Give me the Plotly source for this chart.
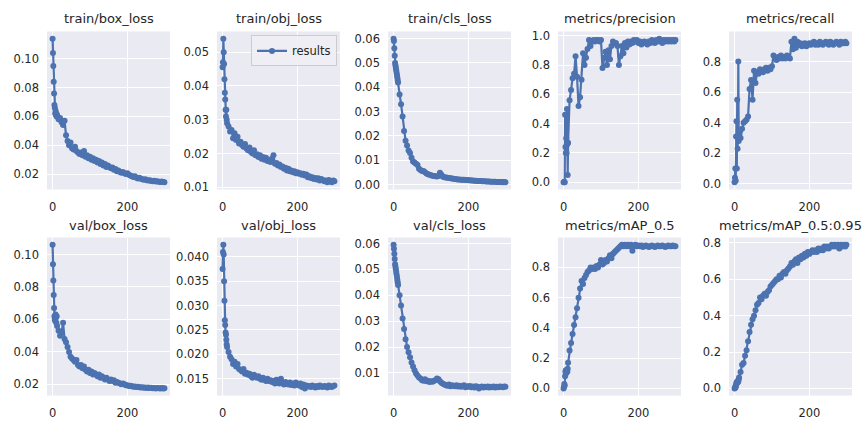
import plotly.graph_objects as go

# ---------------- data ----------------
epochs = list(range(12)) + list(range(12, 300, 4)) + [299]

train_box_loss = [0.114, 0.104, 0.095, 0.084, 0.076, 0.068, 0.066, 0.062, 0.064, 0.061, 0.062, 0.060,
    0.061, 0.058, 0.059, 0.056, 0.054, 0.057, 0.047, 0.043,
    0.040, 0.042, 0.038, 0.037, 0.039, 0.036, 0.035, 0.034,
    0.035, 0.033, 0.036, 0.032, 0.033, 0.031, 0.032, 0.030,
    0.031, 0.029, 0.030, 0.028, 0.029, 0.027, 0.028, 0.026,
    0.027, 0.025, 0.026, 0.025, 0.024, 0.0245, 0.023, 0.0235,
    0.022, 0.0225, 0.0215, 0.021, 0.0215, 0.0205, 0.020, 0.0205,
    0.0195, 0.019, 0.0185, 0.018, 0.0185, 0.0175, 0.017, 0.0175,
    0.0168, 0.0165, 0.016, 0.0165, 0.0158, 0.0155, 0.0158, 0.0152,
    0.015, 0.0153, 0.0148, 0.015, 0.0147, 0.0145, 0.0148, 0.0145,
    0.0143]

train_obj_loss = [0.0455, 0.047, 0.054, 0.050, 0.0465, 0.042, 0.038, 0.036, 0.033, 0.031, 0.033, 0.030,
    0.029, 0.028, 0.0265, 0.027, 0.0245, 0.026, 0.024, 0.025,
    0.023, 0.0235, 0.0225, 0.022, 0.0228, 0.0215, 0.021, 0.0218,
    0.0205, 0.020, 0.021, 0.0195, 0.0198, 0.019, 0.0195, 0.0185,
    0.019, 0.0182, 0.0188, 0.0178, 0.018, 0.0175, 0.0185, 0.0195,
    0.017, 0.0172, 0.0165, 0.0168, 0.016, 0.0162, 0.0155, 0.0158,
    0.015, 0.0155, 0.0148, 0.015, 0.0145, 0.0148, 0.0142, 0.0145,
    0.014, 0.0142, 0.0137, 0.014, 0.0135, 0.0138, 0.013, 0.0133,
    0.0128, 0.013, 0.0125, 0.0128, 0.0123, 0.0127, 0.012, 0.0125,
    0.0122, 0.0118, 0.012, 0.0115, 0.0122, 0.0118, 0.0115, 0.012,
    0.0118]

train_cls_loss = [0.060, 0.059, 0.056, 0.053, 0.050, 0.049, 0.048, 0.047, 0.046, 0.045, 0.044, 0.043,
    0.042, 0.037, 0.033, 0.028, 0.022, 0.018, 0.016, 0.014,
    0.013, 0.011, 0.0095, 0.009, 0.0085, 0.008, 0.0065, 0.006,
    0.0055, 0.0055, 0.005, 0.0045, 0.0042, 0.004, 0.0038, 0.0036,
    0.0035, 0.0034, 0.0033, 0.0035, 0.0048, 0.004, 0.0032, 0.003,
    0.0029, 0.0028, 0.0027, 0.0026, 0.0025, 0.0024, 0.0023, 0.0022,
    0.0021, 0.0021, 0.002, 0.0019, 0.0019, 0.0018, 0.0018, 0.0017,
    0.0017, 0.0016, 0.0016, 0.0015, 0.0015, 0.0014, 0.0014, 0.0014,
    0.0013, 0.0013, 0.0013, 0.0012, 0.0012, 0.0012, 0.0011, 0.0011,
    0.0011, 0.0011, 0.001, 0.001, 0.001, 0.001, 0.0009, 0.001,
    0.0009]

precision = [0.0, 0.0, 0.004, 0.0, 0.46, 0.24, 0.20, 0.30, 0.20, 0.50, 0.26, 0.05,
    0.27, 0.56, 0.63, 0.71, 0.74, 0.86, 0.72, 0.52,
    0.58, 0.70, 0.88, 0.80, 0.85, 0.91, 0.97, 0.93,
    0.96, 0.97, 0.96, 0.97, 0.97, 0.96, 0.97, 0.78,
    0.85, 0.89, 0.80, 0.90, 0.84, 0.93, 0.96, 0.95,
    0.95, 0.93, 0.80, 0.86, 0.93, 0.88, 0.95, 0.92,
    0.96, 0.94, 0.96, 0.95, 0.97, 0.96, 0.97, 0.95,
    0.96, 0.94, 0.95, 0.96, 0.95, 0.94, 0.96, 0.95,
    0.97, 0.96, 0.95, 0.97, 0.96, 0.98, 0.96, 0.95,
    0.97, 0.96, 0.97, 0.96, 0.97, 0.96, 0.97, 0.96,
    0.97]

recall = [0.01, 0.04, 0.10, 0.02, 0.31, 0.41, 0.10, 0.55, 0.23, 0.30, 0.80, 0.28,
    0.33, 0.30, 0.36, 0.40, 0.41, 0.42, 0.44, 0.62,
    0.68, 0.55, 0.74, 0.66, 0.73, 0.72, 0.75, 0.74,
    0.73, 0.75, 0.76, 0.74, 0.76, 0.75, 0.77, 0.84,
    0.82, 0.81, 0.83, 0.82, 0.84, 0.82, 0.83, 0.82,
    0.84, 0.83, 0.82, 0.93, 0.88, 0.95, 0.89, 0.93,
    0.91, 0.92, 0.90, 0.91, 0.92, 0.90, 0.91, 0.92,
    0.91, 0.92, 0.93, 0.91, 0.92, 0.91, 0.93, 0.92,
    0.91, 0.92, 0.93, 0.92, 0.91, 0.93, 0.92, 0.91,
    0.92, 0.93, 0.92, 0.91, 0.93, 0.92, 0.92, 0.93,
    0.92]

val_box_loss = [0.106, 0.094, 0.084, 0.075, 0.067, 0.062, 0.060, 0.059, 0.063, 0.061, 0.058, 0.062,
    0.056, 0.053, 0.050, 0.052, 0.058, 0.048, 0.046, 0.043,
    0.040, 0.037, 0.036, 0.035, 0.034, 0.035, 0.032, 0.031,
    0.032, 0.030, 0.031, 0.029, 0.028, 0.029, 0.027, 0.028,
    0.026, 0.027, 0.026, 0.025, 0.026, 0.024, 0.025, 0.024,
    0.023, 0.024, 0.023, 0.022, 0.023, 0.022, 0.0225, 0.021,
    0.0215, 0.021, 0.0205, 0.020, 0.0205, 0.020, 0.0195, 0.0195,
    0.019, 0.0192, 0.0188, 0.0185, 0.0187, 0.0183, 0.0185, 0.0182,
    0.018, 0.0182, 0.0179, 0.0181, 0.0178, 0.018, 0.0177, 0.0179,
    0.0176, 0.0178, 0.0175, 0.0177, 0.0176, 0.0175, 0.0177, 0.0175,
    0.0176]

val_obj_loss = [0.0375, 0.041, 0.0425, 0.0405, 0.035, 0.031, 0.027, 0.026, 0.0245, 0.024, 0.023, 0.022,
    0.0215, 0.0205, 0.0195, 0.019, 0.018, 0.0185, 0.0175, 0.018,
    0.017, 0.0168, 0.0165, 0.017, 0.016, 0.0162, 0.0158, 0.016,
    0.0155, 0.0152, 0.0158, 0.0155, 0.0152, 0.0155, 0.015, 0.0148,
    0.0152, 0.0148, 0.0145, 0.015, 0.0145, 0.0147, 0.0143, 0.0145,
    0.014, 0.0148, 0.0142, 0.014, 0.015, 0.0142, 0.0138, 0.0143,
    0.014, 0.0138, 0.0142, 0.0137, 0.014, 0.0136, 0.0142, 0.0138,
    0.0136, 0.014, 0.0133, 0.0138, 0.013, 0.0136, 0.0134, 0.0135,
    0.0133, 0.0136, 0.0134, 0.0132, 0.0135, 0.0133, 0.0136, 0.0134,
    0.0133, 0.0135, 0.0134, 0.0132, 0.0136, 0.0134, 0.0133, 0.0135,
    0.0136]

val_cls_loss = [0.0595, 0.058, 0.056, 0.054, 0.052, 0.051, 0.050, 0.049, 0.048, 0.047, 0.046, 0.045,
    0.044, 0.040, 0.036, 0.031, 0.027, 0.023, 0.020, 0.018,
    0.016, 0.014, 0.0125, 0.011, 0.0098, 0.009, 0.0082, 0.0078,
    0.0072, 0.007, 0.0075, 0.0068, 0.007, 0.0065, 0.0068, 0.0066,
    0.007, 0.0072, 0.0078, 0.0075, 0.0068, 0.0062, 0.0058, 0.0055,
    0.0052, 0.005, 0.0055, 0.0048, 0.0052, 0.005, 0.0048, 0.0052,
    0.0047, 0.005, 0.0046, 0.0048, 0.0052, 0.0045, 0.0048, 0.0046,
    0.0049, 0.0045, 0.0047, 0.0044, 0.0048, 0.0046, 0.004, 0.0045,
    0.0047, 0.0044, 0.0046, 0.0045, 0.0047, 0.0044, 0.0046, 0.0045,
    0.0047, 0.0044, 0.0046, 0.0045, 0.0047, 0.0046, 0.0045, 0.0047,
    0.0046]

map_05 = [0.0, 0.01, 0.03, 0.02, 0.08, 0.11, 0.12, 0.10, 0.11, 0.12, 0.11, 0.13,
    0.17, 0.25, 0.30, 0.36, 0.42, 0.47, 0.53, 0.60,
    0.66, 0.71, 0.69, 0.73, 0.75, 0.77, 0.78, 0.80,
    0.79, 0.80, 0.79, 0.81, 0.80, 0.82, 0.85, 0.82,
    0.83, 0.85, 0.84, 0.86, 0.88, 0.86, 0.89, 0.90,
    0.91, 0.92, 0.93, 0.94, 0.95, 0.94, 0.95, 0.94,
    0.95, 0.94, 0.95, 0.91, 0.94, 0.95, 0.94, 0.945,
    0.94, 0.945, 0.935, 0.94, 0.945, 0.94, 0.935, 0.94,
    0.945, 0.94, 0.935, 0.94, 0.945, 0.94, 0.94, 0.945,
    0.94, 0.935, 0.94, 0.945, 0.94, 0.94, 0.945, 0.94,
    0.94]

map_05_095 = [0.0, 0.003, 0.01, 0.006, 0.02, 0.03, 0.035, 0.03, 0.04, 0.035, 0.04, 0.05,
    0.06, 0.09, 0.13, 0.14, 0.18, 0.21, 0.26, 0.31,
    0.35, 0.38, 0.40, 0.43, 0.46, 0.47, 0.50, 0.49,
    0.51, 0.52, 0.51, 0.53, 0.54, 0.56, 0.57, 0.58,
    0.59, 0.60, 0.60, 0.62, 0.61, 0.63, 0.64, 0.63,
    0.65, 0.66, 0.67, 0.69, 0.68, 0.70, 0.71, 0.69,
    0.72, 0.71, 0.73, 0.72, 0.74, 0.73, 0.75, 0.74,
    0.75, 0.76, 0.75, 0.76, 0.75, 0.77, 0.76, 0.77,
    0.76, 0.78, 0.77, 0.78, 0.77, 0.78, 0.79, 0.78,
    0.79, 0.78, 0.79, 0.77, 0.79, 0.78, 0.79, 0.78,
    0.79]

titles = ["train/box_loss", "train/obj_loss", "train/cls_loss", "metrics/precision", "metrics/recall",
          "val/box_loss", "val/obj_loss", "val/cls_loss", "metrics/mAP_0.5", "metrics/mAP_0.5:0.95"]
series = [train_box_loss, train_obj_loss, train_cls_loss, precision, recall,
          val_box_loss, val_obj_loss, val_cls_loss, map_05, map_05_095]

ytick_vals = [
    [0.02, 0.04, 0.06, 0.08, 0.10],
    [0.01, 0.02, 0.03, 0.04, 0.05],
    [0.00, 0.01, 0.02, 0.03, 0.04, 0.05, 0.06],
    [0.0, 0.2, 0.4, 0.6, 0.8, 1.0],
    [0.0, 0.2, 0.4, 0.6, 0.8],
    [0.02, 0.04, 0.06, 0.08, 0.10],
    [0.015, 0.020, 0.025, 0.030, 0.035, 0.040],
    [0.01, 0.02, 0.03, 0.04, 0.05, 0.06],
    [0.0, 0.2, 0.4, 0.6, 0.8],
    [0.0, 0.2, 0.4, 0.6, 0.8],
]
ytick_text = [
    ["0.02", "0.04", "0.06", "0.08", "0.10"],
    ["0.01", "0.02", "0.03", "0.04", "0.05"],
    ["0.00", "0.01", "0.02", "0.03", "0.04", "0.05", "0.06"],
    ["0.0", "0.2", "0.4", "0.6", "0.8", "1.0"],
    ["0.0", "0.2", "0.4", "0.6", "0.8"],
    ["0.02", "0.04", "0.06", "0.08", "0.10"],
    ["0.015", "0.020", "0.025", "0.030", "0.035", "0.040"],
    ["0.01", "0.02", "0.03", "0.04", "0.05", "0.06"],
    ["0.0", "0.2", "0.4", "0.6", "0.8"],
    ["0.0", "0.2", "0.4", "0.6", "0.8"],
]
xtick_vals = [0, 200]
xtick_text = ["0", "200"]

for s in series:
    assert len(s) == len(epochs), len(s)

# ---------------- style / layout ----------------
W, H = 865, 433
BLUE = "#4C72B0"
BG = "#EAEAF2"
TXT = "#262626"
FONT = "DejaVu Sans"

col_left = [47, 217, 388, 558, 729]
col_w = 123
row_top = [29, 239]
row_h = 161

xmin, xmax = min(epochs), max(epochs)
xpad = 0.05 * (xmax - xmin)

fig = go.Figure()
layout = dict(
    width=W, height=H,
    margin=dict(l=0, r=0, t=0, b=0),
    paper_bgcolor="white",
    plot_bgcolor=BG,
    font=dict(family=FONT, color=TXT),
    showlegend=True,
    legend=dict(x=337 / W, xanchor="right", y=1 - 33 / H, yanchor="top",
                bgcolor="rgba(238,238,245,0.85)", bordercolor="#CCCCCC", borderwidth=1,
                font=dict(size=11.5, color=TXT, family=FONT),
                itemwidth=30, tracegroupgap=0),
    annotations=[],
)

for i, (title, vals) in enumerate(zip(titles, series)):
    r, c = divmod(i, 5)
    n = i + 1
    xs = "x" if n == 1 else f"x{n}"
    ys = "y" if n == 1 else f"y{n}"
    fig.add_trace(go.Scatter(
        x=epochs, y=vals, mode="lines+markers", name="results",
        line=dict(color=BLUE, width=2.2),
        marker=dict(color=BLUE, size=6),
        showlegend=(i == 1), xaxis=xs, yaxis=ys,
    ))
    x0 = col_left[c] / W
    x1 = (col_left[c] + col_w) / W
    ytop = 1 - row_top[r] / H
    ybot = 1 - (row_top[r] + row_h) / H
    lo, hi = min(vals), max(vals)
    pad = 0.05 * (hi - lo)
    axcommon = dict(showgrid=True, gridcolor="white", gridwidth=1, zeroline=False,
                    showline=False, ticks="", tickfont=dict(size=11.5, color=TXT, family=FONT))
    layout[f"xaxis{n}"] = dict(domain=[x0, x1], anchor=ys,
                               range=[xmin - xpad, xmax + xpad],
                               tickmode="array", tickvals=xtick_vals, ticktext=xtick_text,
                               ticklabelstandoff=9, **axcommon)
    layout[f"yaxis{n}"] = dict(domain=[ybot, ytop], anchor=xs,
                               range=[lo - pad, hi + pad],
                               tickmode="array", tickvals=ytick_vals[i], ticktext=ytick_text[i],
                               ticklabelstandoff=7, **axcommon)
    layout["annotations"].append(dict(
        text=title, x=(x0 + x1) / 2, y=ytop, xref="paper", yref="paper",
        xanchor="center", yanchor="bottom", yshift=3, showarrow=False,
        font=dict(size=13, color=TXT, family=FONT)))

fig.update_layout(**layout)
fig.write_html("out.html", config={"displayModeBar": False},
               post_script="document.body.style.margin='0';document.body.style.overflow='hidden';")
